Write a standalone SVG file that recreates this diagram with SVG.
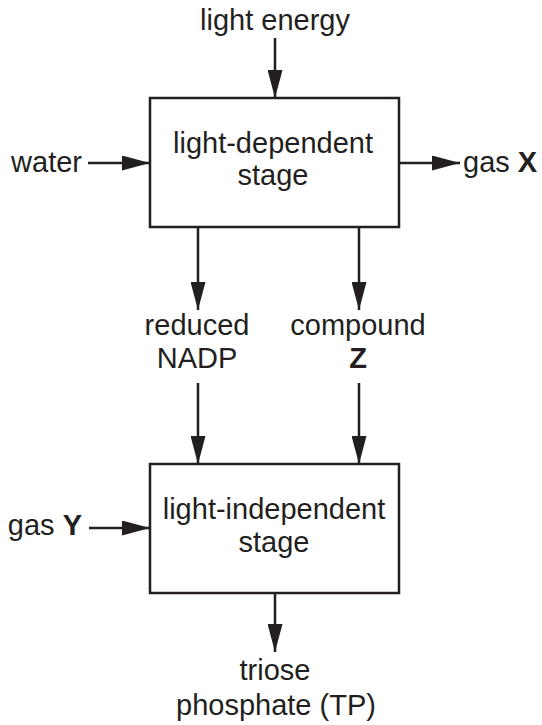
<svg xmlns="http://www.w3.org/2000/svg" width="542" height="725" viewBox="0 0 542 725">
<style>
  .box { fill: #ffffff; stroke: #231f20; stroke-width: 2.5; }
  .lbl { font-family: "Liberation Sans", Arial, sans-serif; font-size: 29px; fill: #231f20; }
  .mid { text-anchor: middle; }
  .end { text-anchor: end; }
  .b { font-weight: bold; }
  .con { stroke: #231f20; stroke-width: 2.5; fill: none; marker-end: url(#ah); }
</style>
<defs>
  <marker id="ah" markerUnits="userSpaceOnUse" markerWidth="28" markerHeight="15" refX="28" refY="7.5" orient="auto">
    <path d="M0,0 L28,7.5 L0,15 Z" fill="#231f20"/>
  </marker>
</defs>
<rect width="542" height="725" fill="#ffffff"/>
<g id="connectors">
  <line class="con" x1="275" y1="38" x2="275" y2="98"/>
  <line class="con" x1="88" y1="163" x2="150" y2="163"/>
  <line class="con" x1="399" y1="163" x2="460" y2="163"/>
  <line class="con" x1="198" y1="227" x2="198" y2="310"/>
  <line class="con" x1="359" y1="227" x2="359" y2="310"/>
  <line class="con" x1="198" y1="383" x2="198" y2="464"/>
  <line class="con" x1="359" y1="383" x2="359" y2="464"/>
  <line class="con" x1="89" y1="528" x2="150" y2="528"/>
  <line class="con" x1="275" y1="593" x2="275" y2="652"/>
</g>
<g id="light-energy"><text class="lbl mid" x="275" y="30">light energy</text></g>
<g id="light-dependent-stage">
  <rect class="box" x="150" y="98" width="249" height="129"/>
  <text class="lbl mid" x="273" y="153">light-dependent</text>
  <text class="lbl mid" x="273" y="185">stage</text>
</g>
<g id="water"><text class="lbl end" x="82" y="172">water</text></g>
<g id="gas-x"><text class="lbl" x="463" y="172">gas <tspan class="b">X</tspan></text></g>
<g id="reduced-nadp">
  <text class="lbl mid" x="197" y="335">reduced</text>
  <text class="lbl mid" x="197" y="368">NADP</text>
</g>
<g id="compound-z">
  <text class="lbl mid" x="358" y="335">compound</text>
  <text class="lbl mid b" x="358" y="368">Z</text>
</g>
<g id="gas-y"><text class="lbl end" x="82" y="535">gas <tspan class="b">Y</tspan></text></g>
<g id="light-independent-stage">
  <rect class="box" x="150" y="464" width="249" height="129"/>
  <text class="lbl mid" x="274" y="519">light-independent</text>
  <text class="lbl mid" x="274" y="552">stage</text>
</g>
<g id="triose-phosphate">
  <text class="lbl mid" x="275" y="680">triose</text>
  <text class="lbl mid" x="276" y="715">phosphate (TP)</text>
</g>
</svg>
